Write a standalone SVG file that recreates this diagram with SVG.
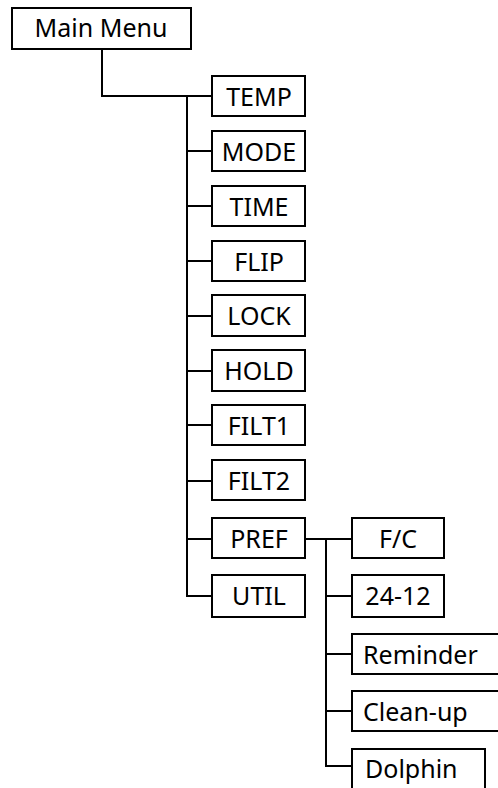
<svg xmlns="http://www.w3.org/2000/svg" width="498" height="788" viewBox="0 0 498 788">
<style>
.box{fill:#fff;stroke:#000;stroke-width:2}
.t{font-family:"Noto Sans",sans-serif;font-size:25px;fill:#000}
.c{text-anchor:middle}
.ln{fill:none;stroke:#000;stroke-width:2}
</style>
<rect width="498" height="788" fill="#fff"/>
<g id="connectors" class="ln">
<path d="M102 49V96H212"/>
<path d="M187 96V596H212"/>
<path d="M187 151H212M187 206H212M187 261H212M187 316H212M187 371H212M187 425H212M187 481H212M187 539H212"/>
<path d="M305 539H352"/>
<path d="M326 539V766H352"/>
<path d="M326 596H352M326 654H352M326 711H352"/>
</g>
<g id="main"><rect class="box" x="12" y="8" width="179" height="41"/><text class="t c" x="101" y="37">Main Menu</text></g>
<g id="temp"><rect class="box" x="212" y="76" width="93" height="40"/><text class="t c" x="259" y="106">TEMP</text></g>
<g id="mode"><rect class="box" x="212" y="131" width="93" height="40"/><text class="t c" x="259" y="161">MODE</text></g>
<g id="time"><rect class="box" x="212" y="186" width="93" height="40"/><text class="t c" x="259" y="216">TIME</text></g>
<g id="flip"><rect class="box" x="212" y="241" width="93" height="40"/><text class="t c" x="259" y="271">FLIP</text></g>
<g id="lock"><rect class="box" x="212" y="295" width="93" height="41"/><text class="t c" x="259" y="325">LOCK</text></g>
<g id="hold"><rect class="box" x="212" y="350" width="93" height="41"/><text class="t c" x="259" y="380">HOLD</text></g>
<g id="filt1"><rect class="box" x="212" y="405" width="93" height="40"/><text class="t c" x="259" y="435">FILT1</text></g>
<g id="filt2"><rect class="box" x="212" y="460" width="93" height="40"/><text class="t c" x="259" y="490">FILT2</text></g>
<g id="pref"><rect class="box" x="212" y="518" width="93" height="40"/><text class="t c" x="259" y="548">PREF</text></g>
<g id="util"><rect class="box" x="212" y="575" width="93" height="42"/><text class="t c" x="259" y="605">UTIL</text></g>
<g id="fc"><rect class="box" x="352" y="518" width="92" height="40"/><text class="t c" x="398" y="548">F/C</text></g>
<g id="h2412"><rect class="box" x="352" y="575" width="92" height="42"/><text class="t c" x="398" y="605">24-12</text></g>
<g id="reminder"><rect class="box" x="352" y="634" width="150" height="40"/><text class="t" x="363" y="664">Reminder</text></g>
<g id="cleanup"><rect class="box" x="352" y="691" width="150" height="40"/><text class="t" x="363" y="721">Clean-up</text></g>
<g id="dolphin"><rect class="box" x="352" y="749" width="133" height="45"/><text class="t" x="365" y="778">Dolphin</text></g>
</svg>
